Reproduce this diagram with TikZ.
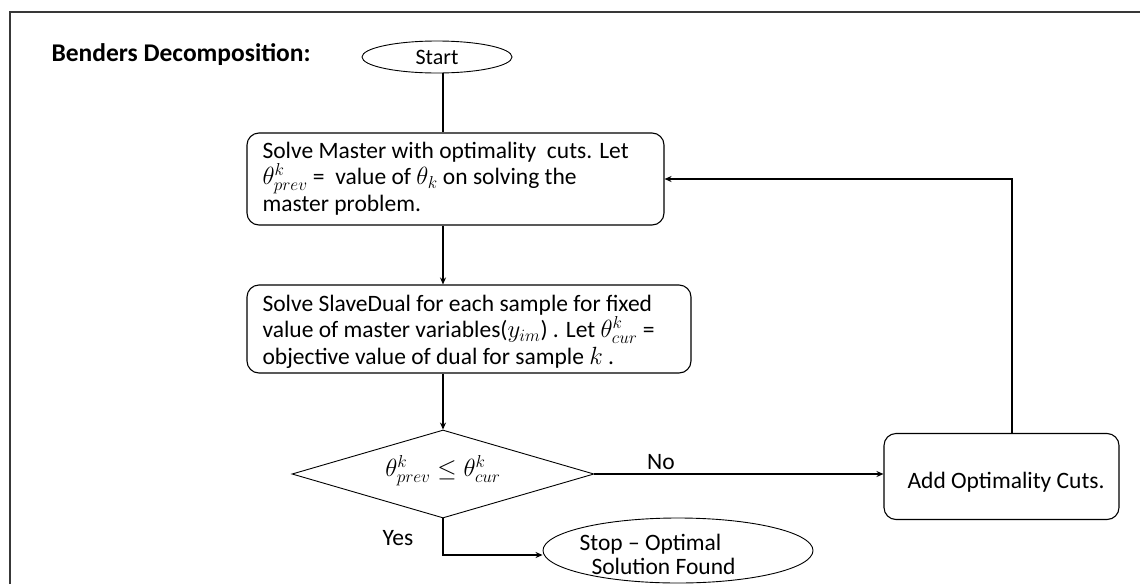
\documentclass[tikz,border=0pt]{standalone}
\usepackage{fontspec}
\setmainfont{Carlito}
\usetikzlibrary{shapes.geometric,arrows.meta,calc}
\begin{document}
\begin{tikzpicture}[x=1pt,y=-1pt,
  line width=1.1pt,
  every node/.style={font=\fontsize{23.5}{26.5}\selectfont},
  procbox/.style={draw, rounded corners=12pt, inner sep=0pt},
  termel/.style={draw, ellipse, inner sep=0pt, line width=0.9pt},
  decis/.style={draw, diamond, inner sep=0pt, line width=0.9pt},
  conn/.style={line width=1.2pt},
  arr/.style={conn, -{Stealth[length=7pt,width=6pt]}},
  lbl/.style={inner sep=0pt},
  bigl/.style={lbl, font=\fontsize{23.5}{27}\selectfont}
]
\useasboundingbox (0,0) rectangle (1140,584);
% outer frame (only left and top visible)
\draw[line width=1.5pt, draw=black!78] (10,584) -- (10,12) -- (1140,12);

\node[lbl, anchor=west, font=\fontsize{25.5}{29}\selectfont\bfseries] (title) at (51,55) {Benders Decomposition:};
\node[termel, minimum width=150pt, minimum height=32pt, font=\fontsize{22}{25}\selectfont] (start) at (437,57) {Start};

\node[procbox, minimum width=417pt, minimum height=92pt] (master) at (455.5,179) {};
\node[lbl, anchor=base west, align=left] (mtext) at (262,211) {Solve Master with optimality\ \ cuts. Let\\$\theta^k_{prev}$ =\ \ value of $\theta_k$ on solving the\\master problem.};

\node[procbox, minimum width=444pt, minimum height=88pt] (slave) at (469,329) {};
\node[lbl, anchor=base west, align=left] (stext) at (262,364) {Solve SlaveDual for each sample for fixed\\value of master variables($y_{im}$) . Let $\theta^k_{cur}$ =\\objective value of dual for sample $k$ .};

\node[decis, minimum width=302pt, minimum height=88pt] (dec) at (443,474) {};
\node[lbl, font=\fontsize{24}{27}\selectfont] (dtext) at (443,471) {$\theta^k_{prev} \le \theta^k_{cur}$};

\node[procbox, minimum width=235pt, minimum height=86pt] (add) at (1001.5,476.5) {};
\node[bigl, anchor=west] (atext) at (907,482) {Add Optimality Cuts.};

\node[termel, minimum width=270pt, minimum height=65pt] (stop) at (678,550.5) {};
\node[lbl, anchor=base west] (stext2) at (579,550) {Stop -- Optimal};
\node[lbl, anchor=base west] (stext3) at (591,574) {Solution Found};

\coordinate (col) at (443,0);
\coordinate (up) at (1012,179);
\coordinate (yesturn) at (443,555);

\draw[conn] (start.south -| col) -- (master.north -| col);
\draw[arr] (master.south -| col) -- (slave.north -| col);
\draw[arr] (slave.south -| col) -- (dec.north);
\draw[arr] (dec.east) -- (add.west |- dec.east);
\node[bigl] (no) at (661,462) {No};
\draw[arr] (add.north -| up) -- (up) -- (master.east |- up);
\draw[arr] (dec.south) -- (yesturn) -- (stop.west |- yesturn);
\node[bigl] (yes) at (398,538) {Yes};
\end{tikzpicture}
\end{document}
